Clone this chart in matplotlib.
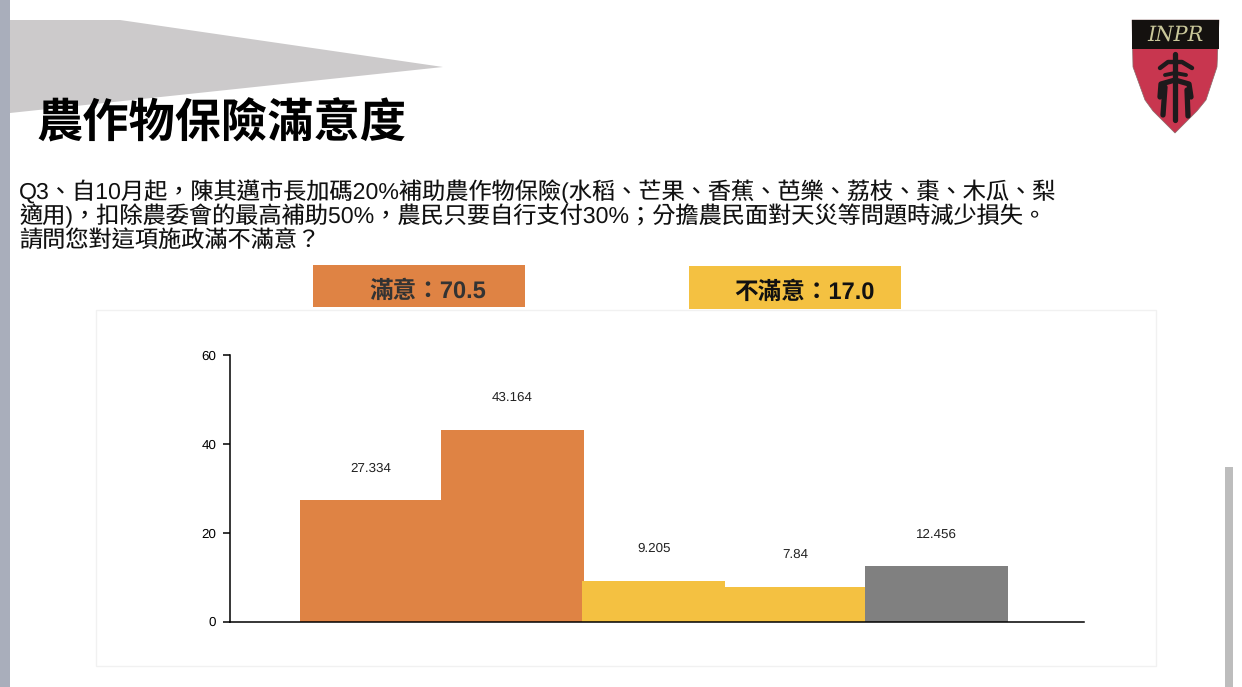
import matplotlib
matplotlib.use("Agg")
import matplotlib.pyplot as plt
from matplotlib.patches import Polygon, Rectangle

plt.rcParams['font.family'] = ['Liberation Sans', 'Noto Sans CJK TC']
plt.rcParams['text.hinting'] = 'none'

W, H = 1242, 687

title = "農作物保險滿意度"
question = ["Q3、自10月起，陳其邁市長加碼20%補助農作物保險(水稻、芒果、香蕉、芭樂、荔枝、棗、木瓜、梨",
            "適用)，扣除農委會的最高補助50%，農民只要自行支付30%；分擔農民面對天災等問題時減少損失。",
            "請問您對這項施政滿不滿意？"]
summary_good = "滿意：70.5"
summary_bad = "不滿意：17.0"

categories = ["非常滿意", "還算滿意", "不太滿意", "非常不滿意", "未表態"]
values = [27.334, 43.164, 9.205, 7.84, 12.456]
labels = ["27.334", "43.164", "9.205", "7.84", "12.456"]
colors = ["#DF8344", "#DF8344", "#F4C141", "#F4C141", "#808080"]
yticks = [0, 20, 40, 60]

fig = plt.figure(figsize=(W / 100, H / 100), dpi=100)

# whole slide in pixel coordinates
bg = fig.add_axes([0, 0, 1, 1])
bg.set_xlim(0, W)
bg.set_ylim(H, 0)
bg.axis("off")

bg.add_patch(Rectangle((0, 0), 10, H, color="#A9AEBB", lw=0))
bg.add_patch(Polygon([(10, 20), (120, 20), (443, 67), (10, 113)], color="#CCCACB", lw=0))
bg.add_patch(Rectangle((1225, 467), 8, 220, color="#BDBDBD", lw=0))

bg.text(36, 124, title, fontsize=33.3, fontweight="bold", va="center", ha="left", color="black",
        family="Noto Sans CJK TC")
for line, y in zip(question, [192, 216, 241]):
    bg.text(19, y, line, fontsize=16.7, va="center", ha="left", color="#111111")

bg.add_patch(Rectangle((313, 265), 212, 42, color="#DF8344", lw=0))
bg.text(428, 292, summary_good, fontsize=17, fontweight="bold", va="center", ha="center", color="#333333")
bg.add_patch(Rectangle((689, 266), 212, 43, color="#F4C141", lw=0))
bg.text(804, 293, summary_bad, fontsize=17, fontweight="bold", va="center", ha="center", color="#111111")

# chart frame
bg.add_patch(Rectangle((96, 310), 1060, 356, fc="white", ec="#F1F1F1", lw=1))

# logo
bg.add_patch(Polygon([(1132, 20), (1219, 20), (1217, 67), (1206, 100), (1197, 111), (1188, 120), (1175, 133),
                      (1162, 120), (1153, 111), (1145, 100), (1133, 67)], fc="#C8364F", ec="#8a6a6a", lw=0.5))
bg.add_patch(Rectangle((1132, 20), 87, 29, color="#14110F", lw=0))
bg.text(1175, 35, "INPR", family="DejaVu Serif", style="italic", fontsize=15, color="#C9C79A",
        ha="center", va="center")
seal = "#1E1A1C"
bg.plot([1175, 1175], [54, 120], color=seal, lw=3.8, solid_capstyle="round")
bg.plot([1160, 1168, 1182, 1192], [68, 62, 62, 68], color=seal, lw=3.2, solid_capstyle="round")
bg.plot([1165, 1175, 1186], [75, 73, 75], color=seal, lw=2.8, solid_capstyle="round")
bg.plot([1160, 1161, 1175, 1189, 1191], [97, 84, 80, 84, 97], color=seal, lw=3.8, solid_capstyle="round")
bg.plot([1165, 1163], [87, 115], color=seal, lw=3.8, solid_capstyle="round")
bg.plot([1187, 1188], [90, 116], color=seal, lw=3.8, solid_capstyle="round")

# bar chart
ax = fig.add_axes([230 / W, 1 - 621.5 / H, (1084 - 230) / W, (621.5 - 355) / H])
ax.patch.set_alpha(0)
ax.bar(range(len(values)), values, width=1.01, color=colors)
for i, v in enumerate(values):
    ax.annotate(labels[i], (i, v), xytext=(0, 26), textcoords="offset pixels", ha="center", va="bottom",
                fontsize=9.6, color="#222222")
ax.set_xlim(-1.0, 5.045)
ax.set_ylim(0, 60)
ax.set_yticks(yticks)
ax.set_xticks([])
ax.tick_params(axis="y", labelsize=9.6, length=5, width=1.1, pad=5)
ax.spines["top"].set_visible(False)
ax.spines["right"].set_visible(False)
ax.spines["left"].set_linewidth(1.1)
ax.spines["bottom"].set_linewidth(1.1)

fig.savefig("out.png", dpi=100)
